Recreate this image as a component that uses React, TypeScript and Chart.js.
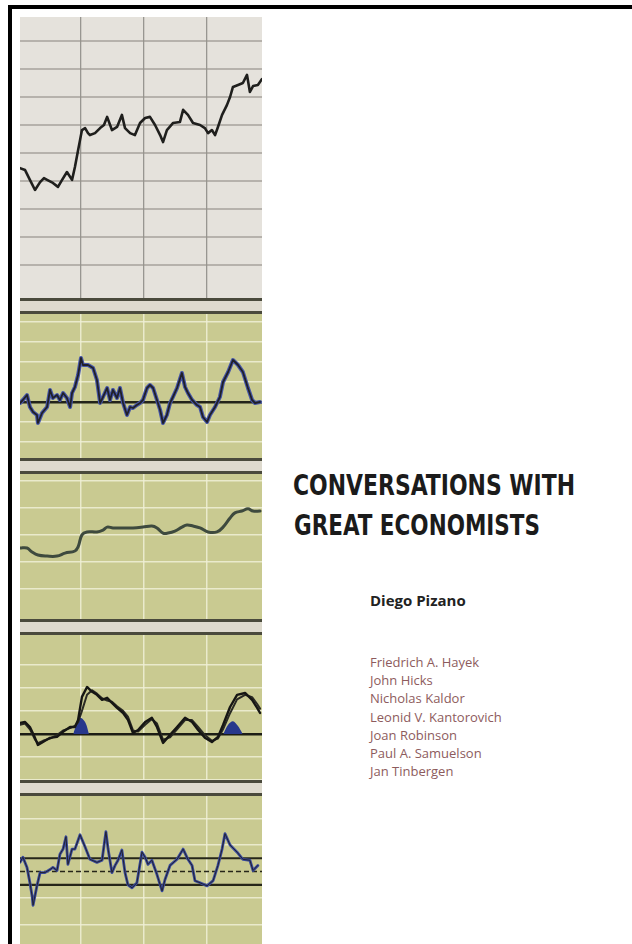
import React, { useEffect, useLayoutEffect, useRef } from "react";
import { Chart, registerables } from "chart.js";
Chart.register(...registerables);

// ---------- data ----------
const xGridAt = [25, 51, 77];

// Panel 1 (grey, top)
const p1X = [0, 2.1, 4.1, 6.2, 8.3, 9.9, 11.2, 13.6, 15.7, 17.4, 19.4, 21.5, 22.7, 24, 24.8, 25.6, 26.9, 28.1, 28.9, 31, 33.1, 34.7, 36, 38, 40.1, 42.1, 43.4, 45.5, 47.5, 49.6, 51.7, 53.7, 55.8, 57.9, 59.1, 60.7, 63.2, 66.1, 67.4, 69.4, 71.5, 74.4, 76.4, 77.7, 79.3, 80.6, 81.8, 83.5, 85.5, 86.8, 88, 90.1, 92.1, 93.8, 95, 96.3, 98.3, 100];
const p1Y = [4.46, 4.39, 4.04, 3.68, 3.96, 4.1, 4.04, 3.93, 3.79, 4.04, 4.32, 4.04, 4.5, 5.1, 5.46, 5.82, 5.89, 5.71, 5.64, 5.71, 5.89, 6.0, 6.29, 5.82, 5.93, 6.36, 5.89, 5.71, 5.64, 6.07, 6.25, 6.29, 6.0, 5.64, 5.39, 5.82, 6.07, 6.11, 6.54, 6.36, 6.07, 6.0, 5.89, 5.71, 5.82, 5.64, 5.93, 6.36, 6.71, 7.0, 7.36, 7.43, 7.5, 7.79, 7.18, 7.39, 7.43, 7.64];
const p1Grid = [1, 2, 3, 4, 5, 6, 7, 8, 9];

// Panel 2 (oscillator)
const p2X = [0, 1.2, 2.9, 4.1, 5.4, 7.0, 7.4, 9.1, 11.2, 12.4, 13.6, 15.3, 16.5, 17.8, 19.4, 20.7, 21.5, 22.7, 24.0, 25.2, 26.0, 28.1, 30.2, 31.8, 33.1, 34.3, 36.0, 37.2, 38.4, 40.1, 41.3, 42.6, 44.2, 45.5, 46.7, 48.3, 49.6, 50.8, 52.5, 53.7, 55.0, 56.6, 57.9, 59.1, 60.7, 62.0, 63.2, 64.9, 66.9, 68.2, 69.4, 71.1, 73.1, 74.4, 75.6, 77.3, 78.5, 80.6, 82.6, 83.9, 86.0, 88.0, 90.1, 92.1, 94.2, 95.9, 97.1, 99.2];
const p2Y = [-0.05, 0.1, 0.35, -0.25, -0.5, -0.65, -1.05, -0.55, -0.25, 0.6, 0.2, 0.35, 0.1, 0.45, 0.2, -0.25, 0.45, 0.75, 1.35, 2.2, 1.85, 1.85, 1.7, 1.1, -0.05, 0.25, 0.7, 0.1, 0.6, 0.2, 0.7, -0.05, -0.65, -0.25, -0.3, -0.15, -0.05, 0.1, 0.7, 0.85, 0.7, 0.1, -0.4, -1.05, -0.65, -0.05, 0.25, 0.7, 1.45, 0.75, 0.45, 0.1, -0.15, -0.25, -0.75, -1.0, -0.65, -0.25, 0.25, 1.0, 1.5, 2.1, 1.85, 1.5, 0.7, 0.1, -0.05, 0];
const p2Grid = [-2, -1, 0, 1, 2, 3, 4];

// Panel 3 (smooth average)
const p3X = [0, 2.9, 5.0, 7.4, 11.2, 15.3, 18.6, 22.7, 24.0, 25.6, 27.7, 31.8, 34.3, 36.0, 38.4, 42.6, 46.7, 50.8, 54.5, 56.6, 59.1, 61.2, 64.0, 66.9, 69.0, 71.5, 74.4, 77.7, 81.4, 83.9, 86.8, 88.8, 91.7, 94.2, 96.3, 99.2];
const p3Y = [2.5, 2.5, 2.35, 2.24, 2.2, 2.2, 2.31, 2.39, 2.54, 2.99, 3.1, 3.1, 3.17, 3.28, 3.25, 3.25, 3.25, 3.28, 3.32, 3.25, 3.06, 3.06, 3.13, 3.28, 3.36, 3.32, 3.25, 3.1, 3.1, 3.28, 3.62, 3.81, 3.88, 3.96, 3.88, 3.88];
const p3Grid = [1, 2, 3, 4, 5];

// Panel 4 (two lines + blue humps)
const p4X = [0, 2.1, 4.1, 6.2, 7.4, 9.5, 12.4, 15.3, 17.8, 20.7, 22.7, 24.0, 25.6, 27.7, 29.8, 31.8, 33.9, 36.0, 38.0, 40.1, 42.6, 44.6, 46.7, 48.8, 51.7, 54.5, 56.6, 59.1, 62.0, 64.9, 68.2, 71.1, 73.6, 76.4, 79.3, 81.8, 83.9, 86.8, 89.7, 93.0, 95.9, 98.0, 99.2];
const p4A = [0.48, 0.52, 0.3, -0.17, -0.48, -0.35, -0.17, -0.13, 0.09, 0.3, 0.3, 0.61, 1.61, 2.04, 1.83, 1.7, 1.48, 1.57, 1.35, 1.13, 0.91, 0.61, 0.04, 0.17, 0.52, 0.7, 0.3, -0.39, -0.04, 0.3, 0.7, 0.52, 0.17, -0.17, -0.35, -0.13, 0.39, 1.17, 1.7, 1.78, 1.48, 1.13, 0.91];
const p4B = [0.4, 0.45, 0.2, -0.25, -0.4, -0.3, -0.2, -0.05, 0.15, 0.25, 0.35, 0.5, 1.0, 1.7, 1.9, 1.75, 1.55, 1.45, 1.4, 1.2, 1.0, 0.75, 0.15, 0.1, 0.4, 0.65, 0.45, -0.25, -0.15, 0.2, 0.6, 0.6, 0.3, -0.05, -0.3, -0.2, 0.2, 0.9, 1.5, 1.7, 1.6, 1.3, 1.1];
const p4HumpAX = [22, 23.5, 25, 27, 28.5];
const p4HumpAY = [0, 0.45, 0.7, 0.5, 0];
const p4HumpBX = [84, 86, 88, 90, 92];
const p4HumpBY = [0, 0.4, 0.55, 0.35, 0];
const p4Grid = [-2, -1, 0, 1, 2, 3];

// Panel 5 (noisy oscillator with bands)
const p5X = [0, 1.2, 2.9, 4.1, 5.0, 5.4, 7.0, 8.3, 10.3, 12.4, 13.6, 15.3, 16.5, 17.8, 19.0, 19.8, 21.5, 22.7, 24.8, 26.9, 28.9, 31.8, 33.9, 35.5, 36.4, 38.0, 39.3, 40.5, 42.1, 43.4, 44.6, 46.3, 48.3, 50.4, 51.7, 52.9, 54.5, 56.6, 58.7, 59.9, 62.0, 64.9, 67.4, 69.4, 71.1, 72.3, 74.4, 77.3, 79.8, 81.8, 83.5, 84.7, 86.8, 89.7, 92.1, 95.0, 96.3, 98.3];
const p5Y = [0.69, 1.08, 0.31, -0.85, -1.85, -2.54, -1.08, -0.08, -0.08, 0.15, 0.31, 0.08, 1.31, 1.69, 2.62, 0.54, 1.69, 1.69, 2.77, 1.85, 0.92, 0.69, 0.85, 3.0, 1.69, -0.08, 0.46, 0.85, 1.62, -0.08, -1.0, -1.23, -0.85, 1.46, 1.08, 0.54, 0.85, -0.23, -1.46, -0.62, 0.46, 0.92, 1.69, 0.92, 0.46, -0.69, -0.85, -1.08, -0.69, 0.46, 1.69, 2.85, 2.0, 1.46, 0.92, 0.85, 0.08, 0.46];
const p5Grid = [-4, -2, 2, 4];
const p5Bands = [-1, 1];
const p5Mid = [0];

const titleLines = ["CONVERSATIONS WITH", "GREAT ECONOMISTS"];
const author = "Diego Pizano";
const economists = [
  "Friedrich A. Hayek",
  "John Hicks",
  "Nicholas Kaldor",
  "Leonid V. Kantorovich",
  "Joan Robinson",
  "Paul A. Samuelson",
  "Jan Tinbergen",
];

// ---------- helpers ----------
const pts = (xs: number[], ys: number[]) => xs.map((x, i) => ({ x, y: ys[i] }));

const GREEN = "#c9ca91";
const GREY = "#e5e2dc";
const LIGHT_GRID = "rgba(240,240,214,0.85)";

function xScale(color: string, width: number) {
  return {
    type: "linear",
    min: 0,
    max: 100,
    afterBuildTicks: (s: any) => {
      s.ticks = xGridAt.map((v) => ({ value: v }));
    },
    afterFit: (s: any) => {
      s.height = 0;
    },
    ticks: { display: false },
    grid: { color, lineWidth: width, drawTicks: false },
    border: { display: false },
  };
}

function yScale(min: number, max: number, grid: number[], color: any, width: any) {
  return {
    type: "linear",
    min,
    max,
    afterBuildTicks: (s: any) => {
      s.ticks = grid.map((v) => ({ value: v }));
    },
    afterFit: (s: any) => {
      s.width = 0;
    },
    ticks: { display: false },
    grid: { color, lineWidth: width, drawTicks: false },
    border: { display: false },
  };
}

const refLinePlugin = {
  id: "refLines",
  beforeDatasetsDraw(chart: any, _args: any, opts: any) {
    const lines = (opts && opts.lines) || [];
    const { ctx, chartArea } = chart;
    const y = chart.scales.y;
    ctx.save();
    for (const l of lines) {
      const py = y.getPixelForValue(l.value);
      ctx.beginPath();
      ctx.strokeStyle = l.color;
      ctx.lineWidth = l.width;
      ctx.setLineDash(l.dash || []);
      ctx.moveTo(chartArea.left, py);
      ctx.lineTo(chartArea.right, py);
      ctx.stroke();
    }
    ctx.restore();
  },
};

const line = (data: any, color: string, width: number, order: number, extra: any = {}) => ({
  type: "line",
  data,
  borderColor: color,
  borderWidth: width,
  pointRadius: 0,
  tension: 0,
  fill: false,
  order,
  borderJoinStyle: "round",
  borderCapStyle: "round",
  ...extra,
});

function baseOptions(scales: any, plugins: any = {}) {
  return {
    animation: false,
    responsive: false,
    maintainAspectRatio: false,
    devicePixelRatio: 1,
    layout: { padding: 0 },
    events: [],
    plugins: { legend: { display: false }, tooltip: { enabled: false }, ...plugins },
    scales,
  };
}

function ChartPanel({ left, top, width, height, bg, make }: any) {
  const ref = useRef<HTMLCanvasElement>(null);
  useEffect(() => {
    const chart = new Chart(ref.current as HTMLCanvasElement, make());
    return () => chart.destroy();
  }, []);
  return (
    <canvas
      ref={ref}
      width={width}
      height={height}
      style={{ position: "absolute", left, top, width, height, background: bg, display: "block" }}
    />
  );
}

function FitText({ text, left, top, width, style }: any) {
  const ref = useRef<HTMLDivElement>(null);
  useLayoutEffect(() => {
    const el = ref.current as HTMLDivElement;
    el.style.transform = "none";
    const w = el.getBoundingClientRect().width;
    if (w > 0) el.style.transform = `scaleX(${width / w})`;
  }, []);
  return (
    <div
      ref={ref}
      style={{ position: "absolute", left, top, whiteSpace: "nowrap", transformOrigin: "0 0", ...style }}
    >
      {text}
    </div>
  );
}

const darkAt = (v0: number[], dark: string, light: string) => (c: any) =>
  c.tick && v0.includes(c.tick.value) ? dark : light;
const widthAt = (v0: number[], dw: number, lw: number) => (c: any) =>
  c.tick && v0.includes(c.tick.value) ? dw : lw;

// ---------- chart configs ----------
const make1 = () => ({
  type: "line",
  data: { datasets: [line(pts(p1X, p1Y), "#1f1f1d", 2.6, 0)] },
  options: baseOptions({
    x: xScale("rgba(120,118,112,0.7)", 1.3),
    y: yScale(-0.214, 9.857, p1Grid, "rgba(150,147,140,0.6)", 2),
  }),
});

const make2 = () => ({
  type: "line",
  data: {
    datasets: [
      line(pts(p2X, p2Y), "#202028", 1.8, 0),
      line(pts(p2X, p2Y), "#4656a8", 4, 1),
    ],
  },
  options: baseOptions({
    x: xScale(LIGHT_GRID, 1.5),
    y: yScale(-2.85, 4.4, p2Grid, darkAt([0], "#23241a", LIGHT_GRID), widthAt([0], 2.4, 1.5)),
  }),
});

const make3 = () => ({
  type: "line",
  data: { datasets: [line(pts(p3X, p3Y), "#3e4a3e", 3, 0, { tension: 0.4 })] },
  options: baseOptions({
    x: xScale(LIGHT_GRID, 1.5),
    y: yScale(-0.22, 5.26, p3Grid, LIGHT_GRID, 1.5),
  }),
});

const make4 = () => ({
  type: "line",
  data: {
    datasets: [
      line(pts(p4X, p4A), "#161614", 2.4, 0),
      line(pts(p4X, p4B), "#2a2a24", 2, 1),
      line(pts(p4HumpAX, p4HumpAY), "rgba(0,0,0,0)", 0, 2, {
        fill: "origin",
        backgroundColor: "#27388c",
        tension: 0.3,
      }),
      line(pts(p4HumpBX, p4HumpBY), "rgba(0,0,0,0)", 0, 2, {
        fill: "origin",
        backgroundColor: "#27388c",
        tension: 0.3,
      }),
    ],
  },
  options: baseOptions({
    x: xScale(LIGHT_GRID, 1.5),
    y: yScale(-2.09, 4.3, p4Grid, darkAt([0], "#1c1d15", LIGHT_GRID), widthAt([0], 2.4, 1.5)),
  }),
});

const make5 = () => ({
  type: "line",
  data: {
    datasets: [
      line(pts(p5X, p5Y), "#222230", 1.0, 0),
      line(pts(p5X, p5Y), "#3a4b9e", 2.8, 1),
    ],
  },
  plugins: [refLinePlugin],
  options: baseOptions(
    {
      x: xScale(LIGHT_GRID, 1.5),
      y: yScale(-5.46, 5.69, p5Grid, LIGHT_GRID, 1.5),
    },
    {
      refLines: {
        lines: [
          ...p5Bands.map((v) => ({ value: v, color: "#262619", width: 2.2 })),
          ...p5Mid.map((v) => ({ value: v, color: "#262619", width: 1.6, dash: [5, 3] })),
        ],
      },
    }
  ),
});

// ---------- layout ----------
const PX = 20;
const PW = 242;

function Separator({ top }: { top: number }) {
  return (
    <>
      <div style={{ position: "absolute", left: PX, top, width: PW, height: 3, background: "#4a4a3c" }} />
      <div style={{ position: "absolute", left: PX, top: top + 3, width: PW, height: 10, background: "#dedace" }} />
      <div style={{ position: "absolute", left: PX, top: top + 13, width: PW, height: 3, background: "#4a4a3c" }} />
    </>
  );
}

export default function App() {
  return (
    <div
      style={{
        position: "absolute",
        left: 0,
        top: 0,
        width: 632,
        height: 944,
        background: "#ffffff",
        overflow: "hidden",
      }}
    >
      <div style={{ position: "absolute", left: 8, top: 5, width: 4, height: 939, background: "#000" }} />
      <div style={{ position: "absolute", left: 8, top: 5, width: 624, height: 4, background: "#000" }} />

      <ChartPanel left={PX} top={17} width={PW} height={282} bg={GREY} make={make1} />
      <Separator top={298} />
      <ChartPanel left={PX} top={314} width={PW} height={145} bg={GREEN} make={make2} />
      <Separator top={458} />
      <ChartPanel left={PX} top={474} width={PW} height={147} bg={GREEN} make={make3} />
      <Separator top={619} />
      <ChartPanel left={PX} top={635} width={PW} height={147} bg={GREEN} make={make4} />
      <Separator top={780} />
      <ChartPanel left={PX} top={796} width={PW} height={148} bg={GREEN} make={make5} />

      <FitText
        text={titleLines[0]}
        left={293}
        top={471}
        width={282}
        style={{ fontFamily: "'Liberation Sans Narrow', 'DejaVu Sans Condensed', sans-serif", fontWeight: 700, fontSize: 29, lineHeight: "29px", color: "#1b1b1b" }}
      />
      <FitText
        text={titleLines[1]}
        left={294}
        top={511}
        width={246}
        style={{ fontFamily: "'Liberation Sans Narrow', 'DejaVu Sans Condensed', sans-serif", fontWeight: 700, fontSize: 29, lineHeight: "29px", color: "#1b1b1b" }}
      />
      <div
        style={{ position: "absolute", left: 370, top: 593, fontFamily: "'Open Sans', sans-serif", fontWeight: 700, fontSize: 15, lineHeight: "15px", color: "#222", whiteSpace: "nowrap" }}
      >
        {author}
      </div>
      <div
        style={{ position: "absolute", left: 370, top: 653, fontFamily: "'Open Sans', sans-serif", fontSize: 13, lineHeight: "18.2px", color: "#8d5b5d", whiteSpace: "nowrap" }}
      >
        {economists.map((n) => (
          <div key={n}>{n}</div>
        ))}
      </div>
    </div>
  );
}
